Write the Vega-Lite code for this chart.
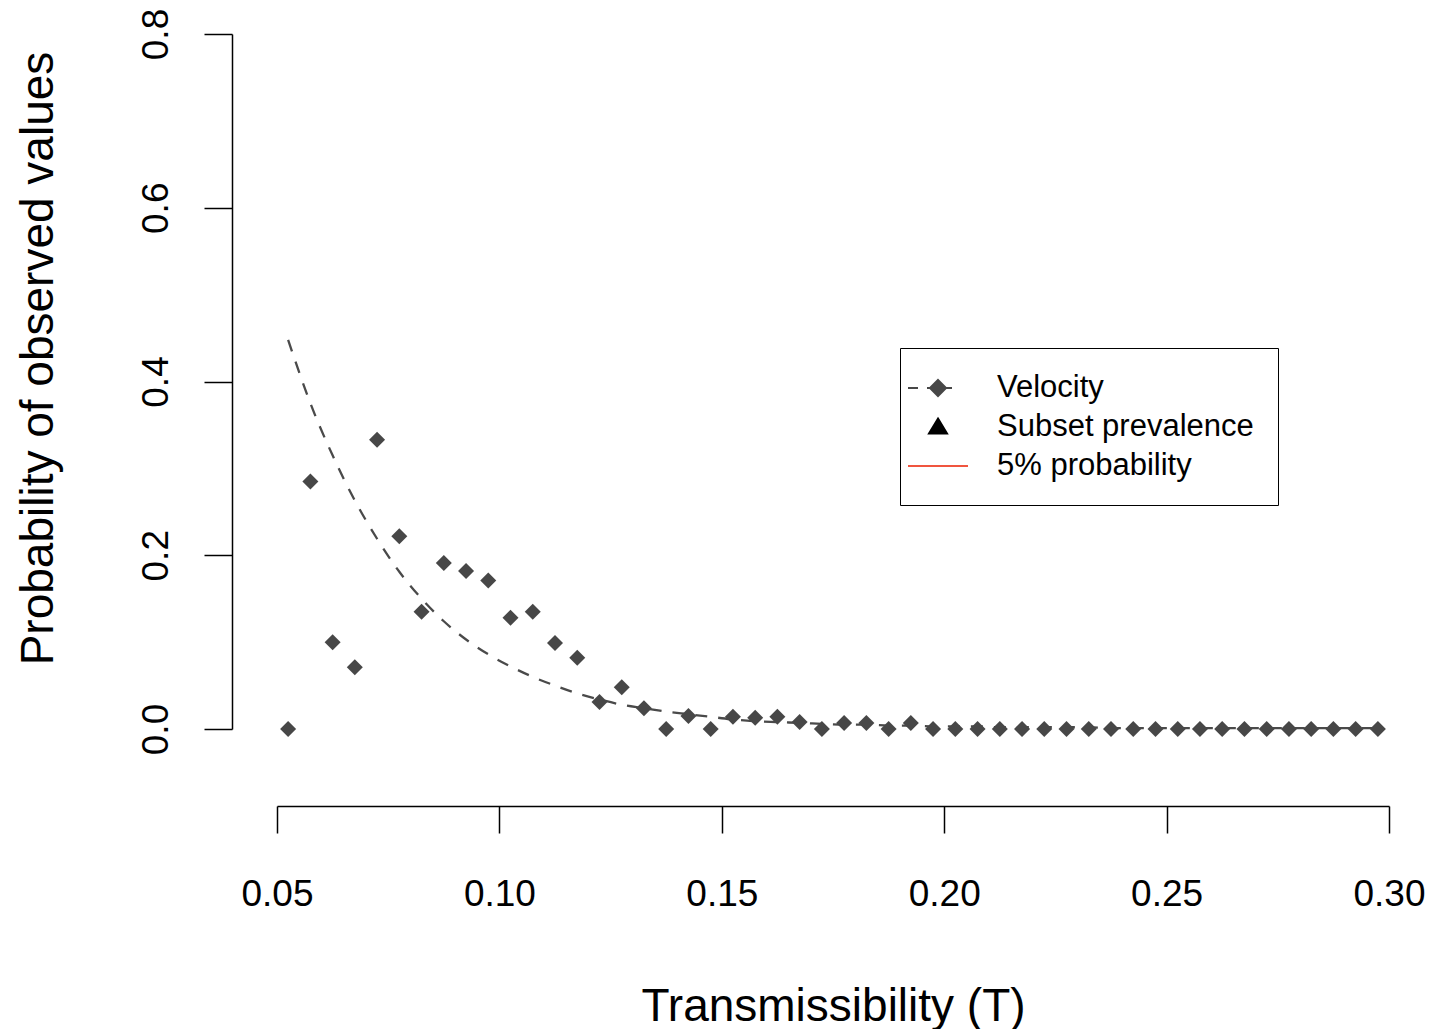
{
  "$schema": "https://vega.github.io/schema/vega-lite/v6.json",
  "autosize": "none",
  "width": 1112,
  "height": 695,
  "padding": {"left": 277, "top": 34, "right": 43, "bottom": 300},
  "background": "white",
  "config": {
    "view": {"stroke": null},
    "font": "Liberation Sans",
    "axis": {
      "grid": false,
      "domainColor": "black",
      "tickColor": "black",
      "domainWidth": 1.5,
      "tickWidth": 1.5,
      "labelColor": "black",
      "titleColor": "black",
      "labelFont": "Liberation Sans",
      "titleFont": "Liberation Sans",
      "titleFontWeight": "normal",
      "labelFlush": false,
      "labelOverlap": false
    },
    "legend": {
      "orient": "none",
      "legendX": 623,
      "legendY": 314,
      "padding": 24,
      "strokeColor": "black",
      "fillColor": "white",
      "symbolSize": 900,
      "symbolStrokeWidth": 2,
      "symbolOpacity": 1,
      "symbolOffset": -2,
      "labelOffset": 43,
      "labelFontSize": 31,
      "labelFont": "Liberation Sans",
      "labelColor": "black",
      "labelLimit": 0,
      "rowPadding": 8
    }
  },
  "datasets": {
    "curve": [
      {"T": 0.0525, "prob": 0.448}, {"T": 0.0575, "prob": 0.375}, {"T": 0.0625, "prob": 0.315},
      {"T": 0.0675, "prob": 0.263}, {"T": 0.0725, "prob": 0.219}, {"T": 0.0775, "prob": 0.181},
      {"T": 0.0825, "prob": 0.150}, {"T": 0.0875, "prob": 0.124}, {"T": 0.0925, "prob": 0.103},
      {"T": 0.0975, "prob": 0.086}, {"T": 0.1025, "prob": 0.072}, {"T": 0.1075, "prob": 0.060},
      {"T": 0.1125, "prob": 0.050}, {"T": 0.1175, "prob": 0.041}, {"T": 0.1225, "prob": 0.034},
      {"T": 0.1275, "prob": 0.028}, {"T": 0.1325, "prob": 0.024}, {"T": 0.1375, "prob": 0.020},
      {"T": 0.1425, "prob": 0.017}, {"T": 0.1475, "prob": 0.014}, {"T": 0.1525, "prob": 0.011},
      {"T": 0.1575, "prob": 0.009}, {"T": 0.1625, "prob": 0.008}, {"T": 0.1675, "prob": 0.007},
      {"T": 0.1725, "prob": 0.006}, {"T": 0.1775, "prob": 0.005}, {"T": 0.1825, "prob": 0.005},
      {"T": 0.1875, "prob": 0.004}, {"T": 0.1925, "prob": 0.004}, {"T": 0.1975, "prob": 0.003},
      {"T": 0.2025, "prob": 0.003}, {"T": 0.2075, "prob": 0.003}, {"T": 0.2125, "prob": 0.002},
      {"T": 0.2175, "prob": 0.002}, {"T": 0.2225, "prob": 0.002}, {"T": 0.2275, "prob": 0.002},
      {"T": 0.2325, "prob": 0.002}, {"T": 0.2375, "prob": 0.001}, {"T": 0.2425, "prob": 0.001},
      {"T": 0.2475, "prob": 0.001}, {"T": 0.2525, "prob": 0.001}, {"T": 0.2575, "prob": 0.001},
      {"T": 0.2625, "prob": 0.001}, {"T": 0.2675, "prob": 0.001}, {"T": 0.2725, "prob": 0.001},
      {"T": 0.2775, "prob": 0.001}, {"T": 0.2825, "prob": 0.001}, {"T": 0.2875, "prob": 0.001},
      {"T": 0.2925, "prob": 0.001}, {"T": 0.2975, "prob": 0.001}
    ],
    "points": [
      {"T": 0.0525, "prob": 0.000, "series": "Velocity"}, {"T": 0.0575, "prob": 0.285, "series": "Velocity"},
      {"T": 0.0625, "prob": 0.100, "series": "Velocity"}, {"T": 0.0675, "prob": 0.071, "series": "Velocity"},
      {"T": 0.0725, "prob": 0.333, "series": "Velocity"}, {"T": 0.0775, "prob": 0.222, "series": "Velocity"},
      {"T": 0.0825, "prob": 0.135, "series": "Velocity"}, {"T": 0.0875, "prob": 0.191, "series": "Velocity"},
      {"T": 0.0925, "prob": 0.182, "series": "Velocity"}, {"T": 0.0975, "prob": 0.171, "series": "Velocity"},
      {"T": 0.1025, "prob": 0.128, "series": "Velocity"}, {"T": 0.1075, "prob": 0.135, "series": "Velocity"},
      {"T": 0.1125, "prob": 0.099, "series": "Velocity"}, {"T": 0.1175, "prob": 0.082, "series": "Velocity"},
      {"T": 0.1225, "prob": 0.031, "series": "Velocity"}, {"T": 0.1275, "prob": 0.048, "series": "Velocity"},
      {"T": 0.1325, "prob": 0.024, "series": "Velocity"}, {"T": 0.1375, "prob": 0.000, "series": "Velocity"},
      {"T": 0.1425, "prob": 0.015, "series": "Velocity"}, {"T": 0.1475, "prob": 0.000, "series": "Velocity"},
      {"T": 0.1525, "prob": 0.014, "series": "Velocity"}, {"T": 0.1575, "prob": 0.013, "series": "Velocity"},
      {"T": 0.1625, "prob": 0.014, "series": "Velocity"}, {"T": 0.1675, "prob": 0.008, "series": "Velocity"},
      {"T": 0.1725, "prob": 0.000, "series": "Velocity"}, {"T": 0.1775, "prob": 0.007, "series": "Velocity"},
      {"T": 0.1825, "prob": 0.007, "series": "Velocity"}, {"T": 0.1875, "prob": 0.000, "series": "Velocity"},
      {"T": 0.1925, "prob": 0.007, "series": "Velocity"}, {"T": 0.1975, "prob": 0.000, "series": "Velocity"},
      {"T": 0.2025, "prob": 0.000, "series": "Velocity"}, {"T": 0.2075, "prob": 0.000, "series": "Velocity"},
      {"T": 0.2125, "prob": 0.000, "series": "Velocity"}, {"T": 0.2175, "prob": 0.000, "series": "Velocity"},
      {"T": 0.2225, "prob": 0.000, "series": "Velocity"}, {"T": 0.2275, "prob": 0.000, "series": "Velocity"},
      {"T": 0.2325, "prob": 0.000, "series": "Velocity"}, {"T": 0.2375, "prob": 0.000, "series": "Velocity"},
      {"T": 0.2425, "prob": 0.000, "series": "Velocity"}, {"T": 0.2475, "prob": 0.000, "series": "Velocity"},
      {"T": 0.2525, "prob": 0.000, "series": "Velocity"}, {"T": 0.2575, "prob": 0.000, "series": "Velocity"},
      {"T": 0.2625, "prob": 0.000, "series": "Velocity"}, {"T": 0.2675, "prob": 0.000, "series": "Velocity"},
      {"T": 0.2725, "prob": 0.000, "series": "Velocity"}, {"T": 0.2775, "prob": 0.000, "series": "Velocity"},
      {"T": 0.2825, "prob": 0.000, "series": "Velocity"}, {"T": 0.2875, "prob": 0.000, "series": "Velocity"},
      {"T": 0.2925, "prob": 0.000, "series": "Velocity"}, {"T": 0.2975, "prob": 0.000, "series": "Velocity"}
    ]
  },
  "encoding": {
    "x": {
      "field": "T",
      "type": "quantitative",
      "scale": {"domain": [0.05, 0.30], "nice": false, "zero": false},
      "axis": {
        "title": "Transmissibility (T)",
        "values": [0.05, 0.10, 0.15, 0.20, 0.25, 0.30],
        "format": ".2f",
        "offset": 77,
        "tickSize": 27,
        "labelAngle": 0,
        "labelAlign": "center",
        "labelBaseline": "alphabetic",
        "labelPadding": 72,
        "labelFontSize": 37,
        "titleFontSize": 46,
        "titleX": 556,
        "titleY": 214,
        "titleAlign": "center",
        "titleBaseline": "alphabetic",
        "titleAngle": 0
      }
    },
    "y": {
      "field": "prob",
      "type": "quantitative",
      "scale": {"domain": [0, 0.8], "nice": false, "zero": false},
      "axis": {
        "title": "Probability of observed values",
        "values": [0, 0.2, 0.4, 0.6, 0.8],
        "format": ".1f",
        "offset": 45,
        "tickSize": 28,
        "labelAngle": -90,
        "labelAlign": "center",
        "labelBaseline": "alphabetic",
        "labelPadding": 37,
        "labelFontSize": 37,
        "titleFontSize": 46,
        "titleAngle": -90,
        "titleX": -180,
        "titleY": 324,
        "titleAlign": "center",
        "titleBaseline": "alphabetic"
      }
    }
  },
  "layer": [
    {
      "data": {"name": "curve"},
      "mark": {"type": "line", "strokeDash": [12, 11], "color": "#4a4a4a", "strokeWidth": 2.3, "interpolate": "monotone"}
    },
    {
      "data": {"name": "points"},
      "mark": {"type": "point", "shape": "diamond", "filled": true, "size": 256, "opacity": 1, "color": "#474747"}
    },
    {
      "data": {"name": "points"},
      "transform": [{"filter": "datum.prob > 1"}],
      "mark": {"type": "point", "filled": true, "opacity": 1, "strokeWidth": 2},
      "encoding": {
        "color": {
          "field": "series",
          "type": "nominal",
          "scale": {"domain": ["Velocity", "Subset prevalence", "5% probability"], "range": ["#474747", "#000000", "#f0553f"]},
          "legend": {"title": null}
        },
        "stroke": {
          "field": "series",
          "type": "nominal",
          "scale": {"domain": ["Velocity", "Subset prevalence", "5% probability"], "range": ["#474747", "#000000", "#f0553f"]},
          "legend": {"title": null}
        },
        "shape": {
          "field": "series",
          "type": "nominal",
          "scale": {
            "domain": ["Velocity", "Subset prevalence", "5% probability"],
            "range": [
              "M-2,0H-1.333M-0.733,0H0.933M0,-0.533L0.533,0L0,0.533L-0.533,0Z",
              "M0,-0.56L0.6,0.44L-0.6,0.44Z",
              "M-2,0H2"
            ]
          },
          "legend": {"title": null}
        }
      }
    }
  ]
}
